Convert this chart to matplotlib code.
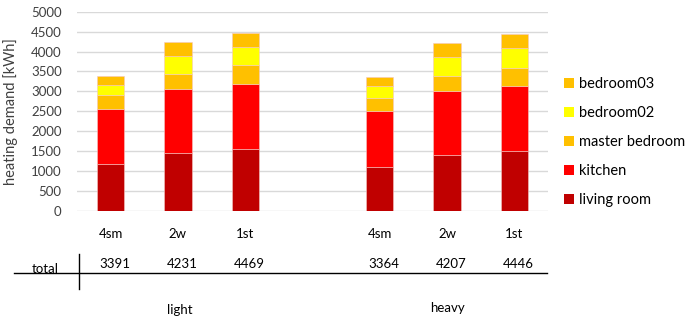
import matplotlib.pyplot as plt
import matplotlib.transforms as mtransforms
from matplotlib.patches import Patch

plt.rcParams["font.family"] = ["Lato", "DejaVu Sans"]

# data
variants = ["4sm", "2w", "1st", "4sm", "2w", "1st"]
groups = ["light", "heavy"]
rooms = ["living room", "kitchen", "master bedroom", "bedroom02", "bedroom03"]
living_room = [1171, 1463, 1564, 1112, 1405, 1497]
kitchen = [1396, 1598, 1622, 1397, 1614, 1648]
master_bedroom = [343, 376, 477, 334, 368, 451]
bedroom02 = [251, 452, 452, 285, 477, 494]
bedroom03 = [230, 342, 354, 236, 343, 356]
totals = [3391, 4231, 4469, 3364, 4207, 4446]

colors = ["#C00000", "#FF0000", "#FFC000", "#FFFF00", "#FFC000"]
series = [living_room, kitchen, master_bedroom, bedroom02, bedroom03]

# one empty slot between the two groups
xpos = [0, 1, 2, 4, 5, 6]

fig = plt.figure(figsize=(6.91, 3.23), dpi=100)
ax = fig.add_axes([77 / 691, 1 - 211 / 323, 471 / 691, 199.3 / 323])

bottom = [0] * len(xpos)
for vals, col in zip(series, colors):
    ax.bar(xpos, vals, width=0.405, bottom=bottom, color=col,
           edgecolor="#F4C7C3", linewidth=0.4, zorder=3)
    bottom = [b + v for b, v in zip(bottom, vals)]

ax.set_xlim(-0.5, 6.5)
ax.set_ylim(0, 5000)
ax.set_yticks(range(0, 5001, 500))
ax.yaxis.grid(True, color="#D9D9D9", linewidth=1)
ax.set_axisbelow(True)
for s in ax.spines.values():
    s.set_visible(False)
ax.tick_params(axis="y", length=0, pad=11, labelsize=9.5, colors="#404040")
ax.set_xticks(xpos)
ax.set_xticklabels(variants)
ax.tick_params(axis="x", length=0, pad=12, labelsize=9.5)
ax.set_ylabel("heating demand [kWh]", fontsize=10.5, color="#404040")
ax.yaxis.set_label_coords(-0.125, 0.5)

# table below the chart
trans = mtransforms.blended_transform_factory(ax.transData, ax.transAxes)
for x, t in zip(xpos, totals):
    ax.text(x + 0.06, -0.266, str(t), transform=trans, ha="center",
            va="center", fontsize=9.5)
ax.text(-0.068, -0.29, "total", transform=ax.transAxes, ha="center",
        va="center", fontsize=9.5)
ax.plot([-0.134, 0.998], [-0.31, -0.31], transform=ax.transAxes,
        color="black", linewidth=1, clip_on=False)
ax.plot([0.004, 0.004], [-0.216, -0.391], transform=ax.transAxes,
        color="black", linewidth=1, clip_on=False)
ax.text(1.03, -0.497, groups[0], transform=trans, ha="center", va="center",
        fontsize=9.5)
ax.text(5.0, -0.487, groups[1], transform=trans, ha="center", va="center",
        fontsize=9.5)

handles = [Patch(facecolor=c, label=r) for c, r in zip(colors, rooms)][::-1]
fig.legend(handles=handles, loc="upper left",
           bbox_to_anchor=(564 / 691, 1 - 77 / 323), frameon=False,
           fontsize=10.5, handlelength=0.7, handleheight=0.7,
           handletextpad=0.3, labelspacing=1.03, borderpad=0,
           borderaxespad=0)

fig.savefig("out.png", dpi=100)
